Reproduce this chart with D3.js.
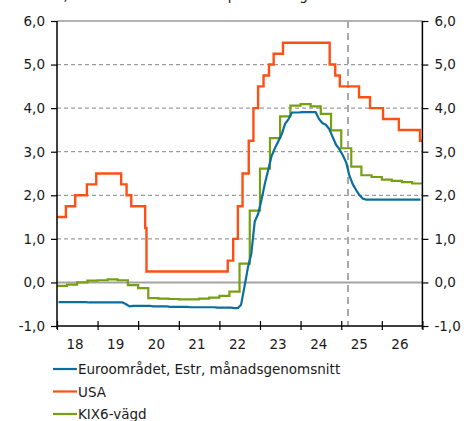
<!DOCTYPE html>
<html><head><meta charset="utf-8">
<script src="https://cdn.jsdelivr.net/npm/d3@7"></script>
<style>
html,body{margin:0;padding:0;background:#fff;}
svg{display:block;font-family:"DejaVu Sans",Verdana,sans-serif;}
</style></head>
<body><svg id="c" width="475" height="421"></svg>
<script>
// ---- data ----
const subtitle = "Procent, utfall och marknadens prissättning";
const seriesNames = ["Euroområdet, Estr, månadsgenomsnitt", "USA", "KIX6-vägd"];
const seriesColors = ["#0a6e9e", "#ff5014", "#76a012"];
const yTicks = [-1, 0, 1, 2, 3, 4, 5, 6];
const yearLabels = [2018, 2019, 2020, 2021, 2022, 2023, 2024, 2025, 2026];
const forecastStart = "2025-03-03";

// Euro area Estr, monthly averages Jan 2018 – Dec 2026
const estrStart = "2018-01";
const estr = [
  -0.45,-0.45,-0.45,-0.45,-0.45,-0.45,-0.45,-0.45,-0.45,-0.46,-0.46,-0.46,
  -0.46,-0.46,-0.46,-0.46,-0.46,-0.46,-0.46,-0.46,-0.50,-0.55,-0.54,-0.54,
  -0.54,-0.54,-0.54,-0.54,-0.55,-0.55,-0.55,-0.55,-0.55,-0.56,-0.56,-0.56,
  -0.56,-0.56,-0.56,-0.57,-0.57,-0.57,-0.57,-0.57,-0.57,-0.57,-0.57,-0.58,
  -0.58,-0.58,-0.58,-0.58,-0.59,-0.59,-0.51,-0.09,0.35,0.66,1.40,1.57,
  1.90,2.28,2.57,2.90,3.08,3.24,3.40,3.64,3.75,3.90,3.90,3.90,
  3.91,3.91,3.91,3.91,3.91,3.75,3.66,3.62,3.52,3.34,3.16,3.06,
  2.92,2.75,2.45,2.25,2.12,2.00,1.92,1.90,1.90,1.90,1.90,1.90,
  1.90,1.90,1.90,1.90,1.90,1.90,1.90,1.90,1.90,1.90,1.90,1.90
];

// USA policy rate (upper bound), change dates and new levels
const usaDates = [
  "2018-01-01","2018-03-22","2018-06-14","2018-09-27","2018-12-20",
  "2019-08-01","2019-09-19","2019-10-31","2020-03-04","2020-03-16",
  "2022-03-17","2022-05-05","2022-06-16","2022-07-28","2022-09-22","2022-11-03","2022-12-15",
  "2023-02-02","2023-03-23","2023-05-04","2023-07-27",
  "2024-09-19","2024-11-08","2024-12-19",
  "2025-06-10","2025-09-17","2026-01-12","2026-06-03","2026-12-10"
];
const usaValues = [
  1.50,1.75,2.00,2.25,2.50,
  2.25,2.00,1.75,1.25,0.25,
  0.50,1.00,1.75,2.50,3.25,4.00,4.50,
  4.75,5.00,5.25,5.50,
  5.00,4.75,4.50,
  4.25,4.00,3.75,3.50,3.25
];

// KIX6-weighted, quarterly 2018Q1 – 2026Q4
const kixStart = "2018-01";
const kix = [
  -0.08,-0.05,0.00,0.04,
   0.05,0.07,0.05,-0.06,
  -0.13,-0.36,-0.37,-0.38,
  -0.39,-0.39,-0.37,-0.35,
  -0.31,-0.21,0.43,1.65,
   2.61,3.31,3.81,4.06,
   4.09,4.04,3.87,3.49,
   3.08,2.66,2.46,2.42,
   2.36,2.33,2.30,2.27
];

// ---- chart ----
const svg = d3.select("#c");
const parse = d3.timeParse("%Y-%m-%d");
const parseM = d3.timeParse("%Y-%m");
const x0 = new Date(2018,0,1), x1 = new Date(2027,0,1);
const x = d3.scaleTime().domain([x0, x1]).range([57, 422.4]);
const y = d3.scaleLinear().domain([-1, 6]).range([326, 21]);
const loc = d3.formatLocale({decimal:",", thousands:" ", grouping:[3], currency:["",""], minus:"-"});
const fmt = loc.format(".1f");
const txt = "#1a1a1a";
const FS = "13.5px";

// subtitle (cut off at top in the original, only descenders visible)
svg.append("text").attr("x", 12.5).attr("y", -0.5).attr("font-size", FS).attr("fill", txt).text(subtitle);

// grid
svg.append("g").selectAll("line").data(yTicks.filter(v => v > -1 && v < 6 && v !== 0)).join("line")
  .attr("x1", x.range()[0]).attr("x2", x.range()[1])
  .attr("y1", d => y(d)).attr("y2", d => y(d))
  .attr("stroke", "#9c9c9c").attr("stroke-width", 1.2).attr("stroke-dasharray", "4,3");
// top border
svg.append("line").attr("x1", x.range()[0]).attr("x2", x.range()[1]).attr("y1", y(6)).attr("y2", y(6))
  .attr("stroke", "#666").attr("stroke-width", 1.2);
// zero line
svg.append("line").attr("x1", x.range()[0]).attr("x2", x.range()[1]).attr("y1", y(0)).attr("y2", y(0))
  .attr("stroke", "#a3a3a3").attr("stroke-width", 2);
// forecast line
const fx = x(parse(forecastStart));
svg.append("line").attr("x1", fx).attr("x2", fx).attr("y1", y(6)).attr("y2", y(-1))
  .attr("stroke", "#a8a8a8").attr("stroke-width", 2).attr("stroke-dasharray", "7,5");

// series
const estrData = estr.map((v, i) => [new Date(2018, parseM(estrStart).getMonth() + i, 15), v]);
const usaData = usaDates.map((d, i) => [parse(d), usaValues[i]]);
usaData.push([x1, usaValues[usaValues.length - 1]]);
const kixData = kix.map((v, i) => [new Date(parseM(kixStart).getFullYear(), i * 3, 1), v]);
kixData.push([x1, kix[kix.length - 1]]);

const lineLin = d3.line().x(d => x(d[0])).y(d => y(d[1]));
const lineStep = d3.line().x(d => x(d[0])).y(d => y(d[1])).curve(d3.curveStepAfter);

svg.append("path").datum(kixData).attr("d", lineStep).attr("fill", "none")
  .attr("stroke", seriesColors[2]).attr("stroke-width", 2.2);
svg.append("path").datum(estrData).attr("d", lineLin).attr("fill", "none")
  .attr("stroke", seriesColors[0]).attr("stroke-width", 2.2).attr("stroke-linejoin", "round");
svg.append("path").datum(usaData).attr("d", lineStep).attr("fill", "none")
  .attr("stroke", seriesColors[1]).attr("stroke-width", 2.4);

// axes
const yl = svg.append("g").attr("transform", `translate(${x.range()[0]},0)`)
  .call(d3.axisLeft(y).tickValues(yTicks).tickFormat(fmt).tickSize(6).tickPadding(6).tickSizeOuter(0));
const yr = svg.append("g").attr("transform", `translate(${x.range()[1]},0)`)
  .call(d3.axisRight(y).tickValues(yTicks).tickFormat(fmt).tickSize(6).tickPadding(6).tickSizeOuter(0));
[yl, yr].forEach(g => {
  g.select(".domain").attr("stroke", "#000").attr("stroke-width", 1.5).attr("d", `M0,${y(6)}V${y(-1)+3}`);
  g.selectAll(".tick line").attr("stroke", "#000").attr("stroke-width", 1.2);
  g.selectAll("text").attr("font-size", FS).attr("fill", txt).attr("font-family", "DejaVu Sans, Verdana, sans-serif");
});

// bottom axis line
svg.append("line").attr("x1", x.range()[0]).attr("x2", x.range()[1]).attr("y1", y(-1)).attr("y2", y(-1))
  .attr("stroke", "#000").attr("stroke-width", 1.5);
const xt = svg.append("g").attr("transform", `translate(0,${y(-1) - 5})`)
  .call(d3.axisBottom(x).ticks(d3.timeYear.every(1)).tickSize(9).tickFormat(""));
xt.select(".domain").remove();
xt.selectAll(".tick line").attr("stroke", "#000").attr("stroke-width", 1.2);

const xl = svg.append("g").attr("transform", `translate(-2.5,${y(-1)})`)
  .call(d3.axisBottom(x).tickValues(yearLabels.map(yv => new Date(yv, 6, 1)))
    .tickFormat(d3.timeFormat("%y")).tickSize(0).tickPadding(13));
xl.select(".domain").remove();
xl.selectAll("text").attr("font-size", FS).attr("fill", txt).attr("font-family", "DejaVu Sans, Verdana, sans-serif");

// legend
const lg = svg.append("g");
seriesNames.forEach((n, i) => {
  const ly = 369 + i * 22.5;
  lg.append("line").attr("x1", 53).attr("x2", 77).attr("y1", ly).attr("y2", ly)
    .attr("stroke", seriesColors[i]).attr("stroke-width", 2.2);
  lg.append("text").attr("x", 78).attr("y", ly + 5).attr("font-size", FS).attr("fill", txt).text(n);
});
</script></body></html>
